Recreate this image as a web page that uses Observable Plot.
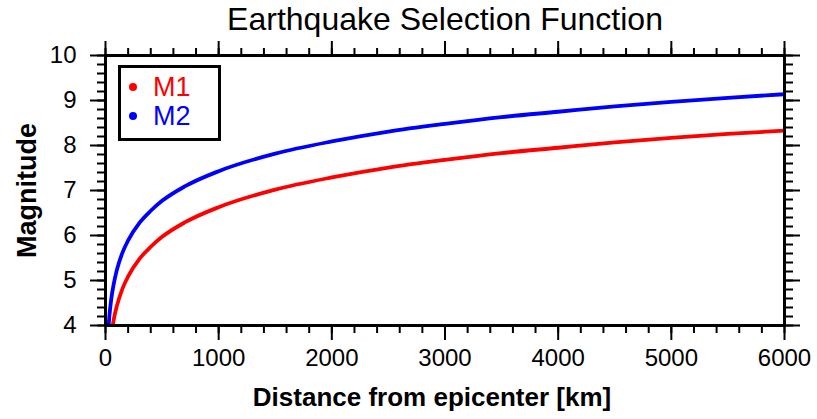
<!DOCTYPE html>
<html>
<head>
<meta charset="utf-8">
<script src="https://cdn.jsdelivr.net/npm/d3@7"></script>
<script src="https://cdn.jsdelivr.net/npm/@observablehq/plot@0.6"></script>
<style>
  html, body { margin: 0; padding: 0; background: #fff; }
  #wrap { position: relative; width: 817px; height: 419px; font-family: "Liberation Sans", Arial, sans-serif; }
  #legend { position: absolute; left: 118px; top: 65px; width: 97px; height: 70px; border: 3px solid #000; background: #fff; }
  .li { position: absolute; left: 0; font-size: 27px; line-height: 27px; }
  .li .dot { position: absolute; left: 8px; top: 9px; width: 8px; height: 8px; border-radius: 50%; }
  .li .lab { position: absolute; left: 32px; top: 0; }
</style>
</head>
<body>
<div id="wrap"></div>
<script>
// Data
const titleText = "Earthquake Selection Function";
const xLabel = "Distance from epicenter [km]";
const yLabel = "Magnitude";
const seriesNames = ["M1", "M2"];
const seriesColors = ["#ff0000", "#0000ff"];

const m1Distance = [64, 75, 100, 150, 200, 300, 400, 500, 700, 1000, 1500, 2000, 2500, 3000, 3500, 4000, 4500, 5000, 5500, 6000];
const m1Magnitude = [4.00, 4.16, 4.43, 4.82, 5.09, 5.48, 5.75, 5.97, 6.29, 6.63, 7.02, 7.29, 7.51, 7.68, 7.83, 7.95, 8.07, 8.17, 8.26, 8.33];

const m2Distance = [28, 35, 50, 75, 100, 150, 200, 300, 400, 500, 700, 1000, 1500, 2000, 2500, 3000, 3500, 4000, 4500, 5000, 5500, 6000];
const m2Magnitude = [4.01, 4.23, 4.57, 4.95, 5.23, 5.62, 5.89, 6.28, 6.55, 6.77, 7.09, 7.43, 7.82, 8.09, 8.31, 8.48, 8.63, 8.75, 8.87, 8.97, 9.06, 9.14];

const xMajorTicks = [0, 1000, 2000, 3000, 4000, 5000, 6000];
const xMinorTicks = d3.range(0, 6001, 200);
const yMajorTicks = [4, 5, 6, 7, 8, 9, 10];
const yMinorTicks = d3.range(4, 10.001, 0.2).map(v => +v.toFixed(1));

const rows = [
  ...m1Distance.map((d, i) => ({series: "M1", d, m: m1Magnitude[i]})),
  ...m2Distance.map((d, i) => ({series: "M2", d, m: m2Magnitude[i]}))
];

const font = "Liberation Sans, Arial, sans-serif";
const chart = Plot.plot({
  width: 817,
  height: 419,
  marginLeft: 105,
  marginRight: 33,
  marginTop: 55,
  marginBottom: 94,
  style: {fontFamily: font, fontSize: "24px", background: "#fff", color: "#000"},
  x: {domain: [0, 6000]},
  y: {domain: [4, 10]},
  color: {domain: seriesNames, range: seriesColors},
  marks: [
    // minor ticks
    Plot.axisX({anchor: "bottom", ticks: xMinorTicks, tickSize: 8, text: null, strokeWidth: 2, label: null}),
    Plot.axisX({anchor: "top", ticks: xMinorTicks, tickSize: 8, text: null, strokeWidth: 2, label: null}),
    Plot.axisY({anchor: "left", ticks: yMinorTicks, tickSize: 8, text: null, strokeWidth: 2, label: null}),
    Plot.axisY({anchor: "right", ticks: yMinorTicks, tickSize: 8, text: null, strokeWidth: 2, label: null}),
    // major ticks
    Plot.axisX({anchor: "bottom", ticks: xMajorTicks, tickSize: 15, tickPadding: 8, tickFormat: d => String(d), strokeWidth: 2, label: null, fontSize: 24}),
    Plot.axisX({anchor: "top", ticks: xMajorTicks, tickSize: 15, text: null, strokeWidth: 2, label: null}),
    Plot.axisY({anchor: "left", ticks: yMajorTicks, tickSize: 15, tickPadding: 14, tickFormat: d => String(d), strokeWidth: 2, label: null, fontSize: 24}),
    Plot.axisY({anchor: "right", ticks: yMajorTicks, tickSize: 15, text: null, strokeWidth: 2, label: null}),
    Plot.line(rows, {x: "d", y: "m", z: "series", stroke: "series", strokeWidth: 3.8, curve: "monotone-x", clip: true}),
    Plot.frame({stroke: "#000", strokeWidth: 3}),
    Plot.text([titleText], {frameAnchor: "top", dy: -36, fontSize: 32, fill: "#000", lineAnchor: "middle"}),
    Plot.text([xLabel], {frameAnchor: "bottom", dx: -13, dy: 72, fontSize: 26, fontWeight: "bold", fill: "#000", lineAnchor: "middle"}),
    Plot.text([yLabel], {frameAnchor: "left", dx: -78, rotate: -90, fontSize: 27, fontWeight: "bold", fill: "#000", lineAnchor: "middle", textAnchor: "middle"})
  ]
});
const wrap = document.getElementById("wrap");
wrap.appendChild(chart);

// legend
const legend = document.createElement("div");
legend.id = "legend";
seriesNames.forEach((name, i) => {
  const item = document.createElement("div");
  item.className = "li";
  item.style.top = (6 + i * 29) + "px";
  item.style.color = seriesColors[i];
  item.innerHTML = `<span class="dot" style="background:${seriesColors[i]}"></span><span class="lab">${name}</span>`;
  legend.appendChild(item);
});
wrap.appendChild(legend);
</script>
</body>
</html>
